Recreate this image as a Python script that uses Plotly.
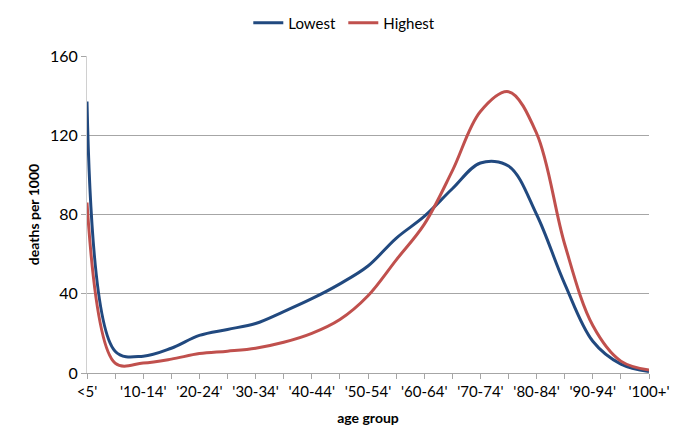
import plotly.graph_objects as go

age_groups = ["<5'", "'5-9'", "'10-14'", "'15-19'", "'20-24'", "'25-29'", "'30-34'",
              "'35-39'", "'40-44'", "'45-49'", "'50-54'", "'55-59'", "'60-64'",
              "'65-69'", "'70-74'", "'75-79'", "'80-84'", "'85-89'", "'90-94'",
              "'95-99'", "'100+'"]

lowest = [137, 11, 8.5, 12.5, 19, 22, 25, 31, 37.5, 45, 54, 68, 79,
          93, 106, 104.5, 80, 45, 16, 4.5, 0.8]
highest = [86, 5, 5, 7, 9.8, 11, 12.5, 15.5, 20, 27, 39, 57, 75,
           102, 132, 142, 121, 65, 24, 6, 1.5]

tick_text = [label if i % 2 == 0 else "" for i, label in enumerate(age_groups)]

fig = go.Figure()

fig.add_trace(go.Scatter(
    x=age_groups,
    y=lowest,
    mode='lines',
    name='Lowest',
    line=dict(color='#21497F', width=3, shape='spline', smoothing=1.0)
))

fig.add_trace(go.Scatter(
    x=age_groups,
    y=highest,
    mode='lines',
    name='Highest',
    line=dict(color='#C0504D', width=3, shape='spline', smoothing=1.0)
))

# page body adds ~7px offset, so margins are shifted to compensate
fig.update_layout(
    width=685,
    height=447,
    margin=dict(l=79, r=44, t=48, b=82, autoexpand=False),
    plot_bgcolor='white',
    paper_bgcolor='white',
    font=dict(family='Lato, Liberation Sans, sans-serif', size=15, color='#000000'),
    legend=dict(
        orientation='h',
        x=0.287, xanchor='left',
        y=1.104, yanchor='middle',
        font=dict(size=15),
        itemwidth=30,
        entrywidth=50,
    ),
    showlegend=True,
)

fig.update_xaxes(
    type='category',
    range=[0, 20],
    tickmode='array',
    tickvals=age_groups,
    ticktext=tick_text,
    ticks='outside',
    ticklen=5,
    tickcolor='#A6A6A6',
    showline=True,
    linecolor='#A6A6A6',
    showgrid=False,
    automargin=False,
    title=dict(text='<b>age group</b>', font=dict(size=14), standoff=14),
    tickfont=dict(size=15),
)

fig.update_yaxes(
    range=[0, 160],
    dtick=40,
    ticks='outside',
    ticklen=5,
    tickcolor='#A6A6A6',
    showline=True,
    linecolor='#D0D0D0',
    showgrid=True,
    gridcolor='#A6A6A6',
    zeroline=False,
    automargin=False,
    title=dict(text='<b>deaths per 1000</b>', font=dict(size=14), standoff=7),
    tickfont=dict(size=16),
)

fig.write_html("out.html")
